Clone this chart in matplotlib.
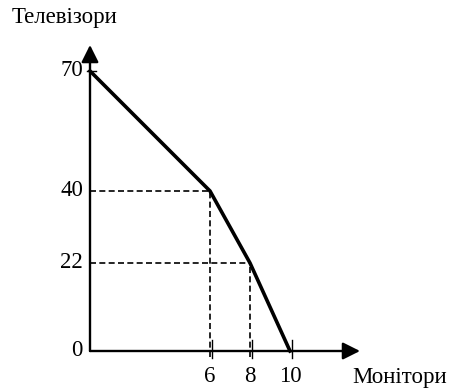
import matplotlib.pyplot as plt

# production possibilities data
monitors = [0, 6, 8, 10]
tvs = [70, 40, 22, 0]
x_ticks = [6, 8, 10]
y_ticks = [0, 22, 40, 70]
x_title = "Монітори"
y_title = "Телевізори"

plt.rcParams['font.family'] = ['Liberation Serif', 'DejaVu Serif']

fig = plt.figure(figsize=(4.55, 3.89), dpi=100)
ax = fig.add_axes([90 / 455, 38 / 389, 280 / 455, 320 / 389])
ax.set_xlim(0, 14)
ax.set_ylim(0, 80)
ax.axis('off')

# axes with arrows
arrow = dict(arrowstyle='-|>', lw=1.7, color='black', mutation_scale=26,
             shrinkA=0, shrinkB=0)
ax.annotate('', xy=(13.5, 0), xytext=(0, 0), arrowprops=arrow, annotation_clip=False)
ax.annotate('', xy=(0, 76.5), xytext=(0, 0), arrowprops=arrow, annotation_clip=False)

# dashed guide lines
dash = (0, (3.6, 2))
for m, t in zip(monitors[1:-1], tvs[1:-1]):
    ax.plot([0, m], [t, t], color='black', lw=1.2, ls=dash, clip_on=False)
    ax.plot([m, m], [-1.5, t], color='black', lw=1.2, ls=dash, clip_on=False)

# frontier
ax.plot(monitors, tvs, color='black', lw=2.6, solid_joinstyle='miter', clip_on=False, zorder=3)

# tick marks
for x in x_ticks:
    ax.plot([x + 0.1, x + 0.1], [-1.75, 2.75], color='black', lw=1, clip_on=False)
ax.plot([-0.15, 0.3], [70, 70], color='black', lw=1, clip_on=False)

# tick labels
for y in y_ticks:
    ax.text(-0.35, y, str(y), ha='right', va='center', fontsize=16.5)
for x in x_ticks:
    ax.text(x, -6.5, str(x), ha='center', va='center', fontsize=16.5)

fig.text(12 / 455, 1 - 18 / 389, y_title, ha='left', va='center', fontsize=16.5)
fig.text(352 / 455, 1 - 377 / 389, x_title, ha='left', va='center', fontsize=16.5)

fig.savefig('out.png', dpi=100)
